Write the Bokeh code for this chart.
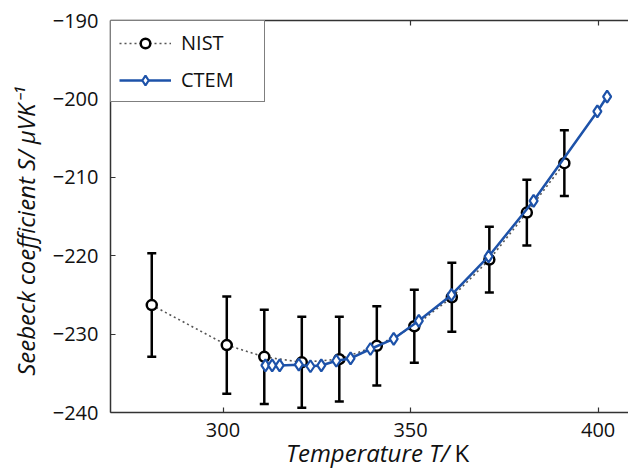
import math
from bokeh.plotting import figure
from bokeh.models import (ColumnDataSource, FixedTicker, LinearAxis, Whisker, TeeHead,
                          Label, Legend, LegendItem, Range1d)
from bokeh.embed import file_html
from bokeh.resources import INLINE

# ---- data ----
nist_T = [281, 301, 311, 321, 331, 341, 351, 361, 371, 381, 391]
nist_S = [-226.3, -231.4, -232.9, -233.6, -233.2, -231.5, -229.0, -225.3, -220.5, -214.5, -208.2]
nist_err = [6.6, 6.2, 6.0, 5.8, 5.4, 5.05, 4.65, 4.4, 4.2, 4.2, 4.2]

ctem_T = [311.3, 313.1, 315.1, 320.2, 323.3, 326.2, 330.2, 334.0, 339.3, 345.5, 352.2,
          360.9, 370.8, 382.8, 399.8, 402.4]
ctem_S = [-234.0, -234.0, -234.0, -233.9, -234.1, -234.0, -233.4, -233.1, -231.9, -230.6,
          -228.3, -225.0, -220.1, -213.0, -201.6, -199.7]

x_ticks = [300, 350, 400]
y_ticks = [-240, -230, -220, -210, -200, -190]
y_tick_labels = ["\u2212240", "\u2212230", "\u2212220", "\u2212210", "\u2212200", "\u2212190"]

series_names = ["NIST", "CTEM"]
x_label_italic = "Temperature T/"
x_label_unit = "K"
y_label = "Seebeck coefficient S/ \u00b5VK\u207b\u00b9"

FONT = "Open Sans"
BLUE = "#1d52a9"
AXC = "#333333"

p = figure(width=628, height=473, output_backend="svg", toolbar_location=None,
           x_range=Range1d(270, 408.1), y_range=Range1d(-240, -190),
           min_border_left=110, min_border_right=0, min_border_top=20, min_border_bottom=61)
p.outline_line_color = None
p.background_fill_color = "white"
p.border_fill_color = "white"
p.xgrid.visible = False
p.ygrid.visible = False

for ax in (p.xaxis[0], p.yaxis[0]):
    ax.axis_line_color = AXC
    ax.axis_line_width = 1.5
    ax.major_tick_line_color = AXC
    ax.major_tick_line_width = 1.2
    ax.major_tick_in = 5
    ax.major_tick_out = 0
    ax.minor_tick_line_color = None
    ax.major_label_text_font = FONT
    ax.major_label_text_font_size = "20px"
    ax.major_label_text_color = "#111111"

p.xaxis[0].ticker = FixedTicker(ticks=x_ticks)
p.xaxis[0].major_label_standoff = 10
p.yaxis[0].ticker = FixedTicker(ticks=y_ticks)
p.yaxis[0].major_label_overrides = dict(zip(y_ticks, y_tick_labels))
p.yaxis[0].major_label_standoff = 12

top = LinearAxis(ticker=FixedTicker(ticks=x_ticks), axis_line_color=AXC, axis_line_width=1.5,
                 major_tick_line_color=AXC, major_tick_line_width=1.2,
                 major_tick_in=5, major_tick_out=0, minor_tick_line_color=None,
                 major_label_text_font_size="0px", major_label_standoff=0,
                 major_label_overrides={t: "" for t in x_ticks})
p.add_layout(top, "above")

nsrc = ColumnDataSource(dict(x=nist_T, y=nist_S,
                             lo=[s - e for s, e in zip(nist_S, nist_err)],
                             hi=[s + e for s, e in zip(nist_S, nist_err)]))
csrc = ColumnDataSource(dict(x=ctem_T, y=ctem_S))

nline = p.line("x", "y", source=nsrc, line_color="#555555", line_width=1.6, line_dash="2 3")
wh = Whisker(source=nsrc, base="x", upper="hi", lower="lo", line_color="black", line_width=2.5,
             upper_head=TeeHead(size=9, line_color="black", line_width=2.5),
             lower_head=TeeHead(size=9, line_color="black", line_width=2.5))
p.add_layout(wh)
ncirc = p.scatter("x", "y", source=nsrc, marker="circle", size=10, line_color="black",
                  line_width=2.5, fill_color="white")

cline = p.line("x", "y", source=csrc, line_color=BLUE, line_width=2.5)
cdia = p.scatter("x", "y", source=csrc, marker="diamond", size=12, line_color=BLUE,
                 line_width=2.2, fill_color="white")

legend = Legend(items=[LegendItem(label=series_names[0], renderers=[nline, ncirc]),
                       LegendItem(label=series_names[1], renderers=[cline, cdia])],
                location="top_left", margin=0, padding=8, spacing=10,
                glyph_width=52, glyph_height=24, label_height=24, label_width=75,
                label_standoff=10, label_text_font=FONT, label_text_font_size="20px",
                label_text_color="#111111", border_line_color="black", border_line_width=1.2,
                background_fill_color="white", background_fill_alpha=1)
p.add_layout(legend)

# axis titles, in canvas coordinates, placed in side panels (side panels are not clipped)
for txt, x, y, align, style, ang, side in [
        (x_label_italic, 449, 452, "right", "italic", 0, "below"),
        (x_label_unit, 454, 452, "left", "normal", 0, "left"),
        (y_label, 25, 231, "center", "italic", math.pi / 2, "left")]:
    p.add_layout(Label(x=x, y=y, x_units="canvas", y_units="canvas", text=txt, angle=ang,
                       text_font=FONT, text_font_size="24px", text_font_style=style,
                       padding=0, text_align=align, text_baseline="alphabetic",
                       text_color="#111111"),
                 side)

open("out.html", "w").write(file_html(p, INLINE))
